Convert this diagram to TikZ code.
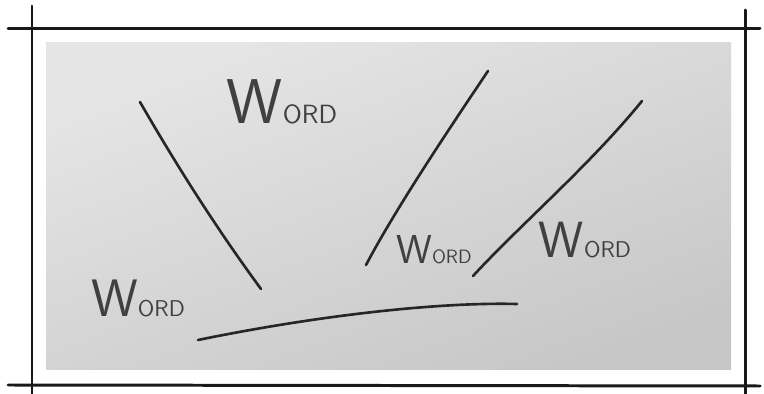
\documentclass[tikz,border=0pt]{standalone}
\usetikzlibrary{calc}

\tikzset{
  frameline/.style={line width=1.7pt, black!90, line cap=round},
  penline/.style={line width=1.5pt, black!85, line cap=round},
  word/.style={text=black!75, inner sep=0pt, font=\sffamily}
}
\newcommand{\bigW}[1]{{\fontsize{#1}{#1}\selectfont W}}
\newcommand{\penword}[2]{\bigW{#1}{\fontsize{#2}{#2}\selectfont ORD}}

\begin{document}
\begin{tikzpicture}[x=0.02cm, y=-0.02cm]
  \useasboundingbox (0,0) rectangle (764,394);
  % paper
  \shade[top color=black!10, bottom color=black!22, shading angle=20]
    (46,43) rectangle (731,370);
  % frame
  \draw[frameline] (8,29) -- (760,29);
  \draw[frameline] (8,385) -- (760,386);
  \draw[frameline] (32,6) -- (32,394);
  \draw[frameline] (745,10) -- (745,394);
  % strokes
  \coordinate (left top) at (140,102);
  \coordinate (left end) at (261,289);
  \coordinate (mid top) at (488,71);
  \coordinate (mid end) at (366,265);
  \coordinate (right top) at (642,101);
  \coordinate (right end) at (473,276);
  \coordinate (base start) at (198,340);
  \coordinate (base end) at (517,304);
  \draw[penline] (left top) .. controls (185,180) and (225,240) .. (left end);
  \draw[penline] (mid top) .. controls (445,135) and (395,210) .. (mid end);
  \draw[penline] (right top) .. controls (590,165) and (520,225) .. (right end);
  \draw[penline] (base start) .. controls (320,315) and (440,302) .. (base end);
  % words
  \node[word] (word top) at (282,102) {\penword{36}{15}};
  \node[word] (word low) at (138,298) {\penword{30}{13}};
  \node[word] (word mid) at (434,250) {\penword{23}{11}};
  \node[word] (word right) at (585,240) {\penword{29}{13}};
\end{tikzpicture}
\end{document}
